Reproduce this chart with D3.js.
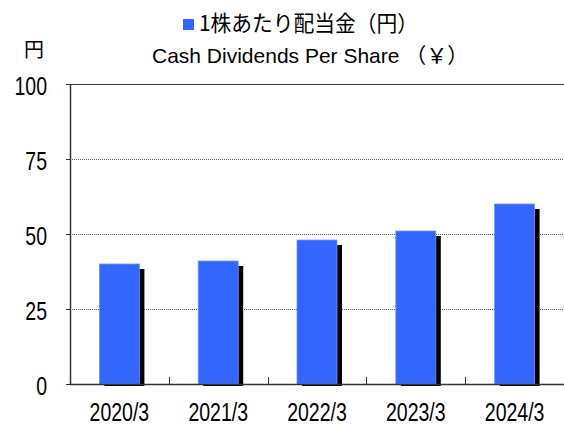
<!DOCTYPE html>
<html>
<head>
<meta charset="utf-8">
<script src="https://cdn.jsdelivr.net/npm/d3@7"></script>
<style>
  body { margin: 0; background: #fff; }
  text { font-family: "Liberation Sans", Arial, sans-serif; fill: #000; }
  .jp { font-family: "Noto Sans CJK JP", sans-serif; }
</style>
</head>
<body>
<svg id="chart" width="564" height="427"></svg>
<script>
// data
var categories = ['2020/3', '2021/3', '2022/3', '2023/3', '2024/3'];
var dividends = [40, 41, 48, 51, 60];
var yTicks = [0, 25, 50, 75, 100];

var margin = {top: 84, right: 0, bottom: 43, left: 70};
var width = 564 - margin.left - margin.right;
var height = 427 - margin.top - margin.bottom;
var narrow = 0.78; // reference numbers are a condensed face

var svg = d3.select('#chart');
var g = svg.append('g').attr('transform', 'translate(' + margin.left + ',' + margin.top + ')');

var x = d3.scaleBand().domain(categories).range([0, width]);
var y = d3.scaleLinear().domain([0, 100]).range([height, 0]);
var barW = 40, shadow = 5;

// grid lines
g.selectAll('.grid').data(yTicks.filter(function(d){ return d > 0 && d < 100; }))
  .enter().append('line')
  .attr('x1', 0).attr('x2', width)
  .attr('y1', function(d){ return y(d) + 0.5; }).attr('y2', function(d){ return y(d) + 0.5; })
  .attr('stroke', '#555').attr('stroke-width', 1).attr('stroke-dasharray', '1,1');

// top border
g.append('line').attr('x1', 0).attr('x2', width).attr('y1', 0.5).attr('y2', 0.5)
  .attr('stroke', '#333');

// shadows
g.selectAll('.shadow').data(dividends).enter().append('rect')
  .attr('x', function(d, i){ return x(categories[i]) + x.bandwidth()/2 - barW/2 + shadow; })
  .attr('y', function(d){ return y(d) + shadow; })
  .attr('width', barW)
  .attr('height', function(d){ return height - y(d) - shadow + 2; })
  .attr('fill', '#000');

// bars
g.selectAll('.bar').data(dividends).enter().append('rect')
  .attr('x', function(d, i){ return x(categories[i]) + x.bandwidth()/2 - barW/2; })
  .attr('y', function(d){ return y(d); })
  .attr('width', barW)
  .attr('height', function(d){ return height - y(d); })
  .attr('fill', '#3366FF')
  .attr('stroke', '#6f94ff').attr('stroke-width', 0.8);

// y axis
g.append('line').attr('x1', 0.5).attr('x2', 0.5).attr('y1', 0).attr('y2', height)
  .attr('stroke', '#333').attr('stroke-width', 1.5);
g.selectAll('.ytick').data(yTicks).enter().append('line')
  .attr('x1', -4).attr('x2', 0)
  .attr('y1', function(d){ return y(d) + 0.5; }).attr('y2', function(d){ return y(d) + 0.5; })
  .attr('stroke', '#333');
g.selectAll('.ylab').data(yTicks).enter().append('text')
  .attr('transform', function(d){ return 'translate(-23,' + (y(d) + 2) + ') scale(' + narrow + ',1)'; })
  .attr('dy', '0.36em').attr('text-anchor', 'end')
  .attr('font-size', 25).text(function(d){ return d; });

// x axis
g.append('line').attr('x1', 0).attr('x2', width).attr('y1', height + 0.5).attr('y2', height + 0.5)
  .attr('stroke', '#333').attr('stroke-width', 1.5);
g.selectAll('.xtick').data(categories.slice(1)).enter().append('line')
  .attr('x1', function(d){ return Math.round(x(d)) + 0.5; })
  .attr('x2', function(d){ return Math.round(x(d)) + 0.5; })
  .attr('y1', height - 7).attr('y2', height)
  .attr('stroke', '#333');
g.selectAll('.xlab').data(categories).enter().append('text')
  .attr('transform', function(d){ return 'translate(' + (x(d) + x.bandwidth()/2) + ',' + (height + 37) + ') scale(' + narrow + ',1)'; })
  .attr('text-anchor', 'middle').attr('font-size', 25)
  .text(function(d){ return d; });

// unit label
svg.append('text').attr('class', 'jp').attr('x', 34).attr('y', 57)
  .attr('text-anchor', 'middle').attr('font-size', 20).text('円');

// legend
svg.append('rect').attr('x', 183).attr('y', 19).attr('width', 11).attr('height', 11).attr('fill', '#3366FF');
svg.append('text').attr('class', 'jp').attr('x', 199).attr('y', 31)
  .attr('font-size', 22).attr('textLength', 219).attr('lengthAdjust', 'spacingAndGlyphs')
  .text('1株あたり配当金（円）');
var sub = svg.append('text').attr('x', 152).attr('y', 63).attr('font-size', 21);
sub.append('tspan').text('Cash Dividends Per Share ');
sub.append('tspan').attr('class', 'jp').text('（￥）');
</script>
</body>
</html>
